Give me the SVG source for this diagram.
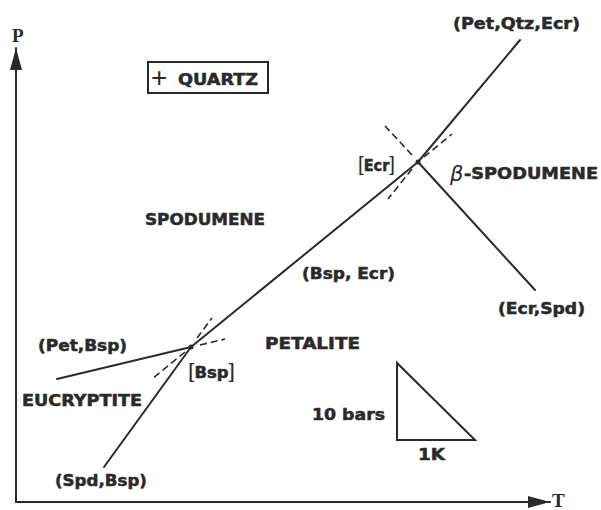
<svg xmlns="http://www.w3.org/2000/svg" width="601" height="510" viewBox="0 0 601 510">
<defs>
<marker id="arrow" markerUnits="userSpaceOnUse" markerWidth="22" markerHeight="12" refX="22" refY="6" orient="auto">
<path d="M0,0 L22,6 L0,12 z" fill="#2a2a2a"/>
</marker>
<style>
.ln{stroke:#2a2a2a;stroke-width:2;fill:none;stroke-linecap:round}
.ds{stroke:#2a2a2a;stroke-width:1.6;fill:none;stroke-dasharray:7 4}
.lb{font-family:"DejaVu Sans","Liberation Sans",sans-serif;font-weight:bold;font-size:15px;fill:#2a2a2a;stroke:#2a2a2a;stroke-width:0.5}
.ax{font-family:"Liberation Serif","DejaVu Serif",serif;font-weight:bold;font-size:19px;fill:#2a2a2a}
.th{font-weight:normal;stroke-width:0}
.br{font-family:"Liberation Sans",sans-serif;font-weight:normal;stroke-width:0;font-size:21px}
</style>
</defs>
<rect width="601" height="510" fill="#fff"/>
<g id="axes">
<line class="ln" x1="16" y1="502" x2="16" y2="48" marker-end="url(#arrow)"/>
<line class="ln" x1="16" y1="502" x2="550" y2="502" marker-end="url(#arrow)"/>
<text class="ax" x="12" y="42">P</text>
<text class="ax" x="552" y="507">T</text>
</g>
<g id="connectors">
<line class="ln" x1="104" y1="467" x2="191" y2="347"/>
<line class="ln" x1="57" y1="379" x2="191" y2="347"/>
<line class="ln" x1="191" y1="347" x2="418" y2="162"/>
<line class="ln" x1="418" y1="162" x2="520" y2="40"/>
<line class="ln" x1="418" y1="162" x2="535" y2="290"/>
<line class="ds" x1="412" y1="155" x2="385" y2="126"/>
<line class="ds" x1="424" y1="157" x2="452" y2="134"/>
<line class="ds" x1="412" y1="169" x2="388" y2="199"/>
<line class="ds" x1="197" y1="338" x2="212" y2="318"/>
<line class="ds" x1="185" y1="352" x2="152" y2="379"/>
<line class="ds" x1="200" y1="345" x2="225" y2="339"/>
<circle cx="191" cy="347" r="2.5" fill="#2a2a2a"/>
<circle cx="418" cy="162" r="2.5" fill="#2a2a2a"/>
</g>
<g id="quartz">
<rect x="148" y="62" width="120" height="31" fill="none" stroke="#2a2a2a" stroke-width="2"/>
<text class="lb" x="151" y="87"><tspan class="th" font-size="28" font-family="Liberation Sans, sans-serif">+</tspan></text>
<text class="lb" x="178" y="85" textLength="80" lengthAdjust="spacingAndGlyphs">QUARTZ</text>
</g>
<g id="pet-qtz-ecr"><text class="lb" x="453" y="29" textLength="127" lengthAdjust="spacingAndGlyphs">(Pet,Qtz,Ecr)</text></g>
<g id="ecr"><text class="lb" x="358" y="171" textLength="37" lengthAdjust="spacingAndGlyphs"><tspan class="br">[</tspan>Ecr<tspan class="br">]</tspan></text></g>
<g id="beta-spodumene">
<text class="lb" x="450" y="181"><tspan class="th" font-style="italic" font-size="21">β</tspan></text>
<text class="lb" x="464" y="179" textLength="134" lengthAdjust="spacingAndGlyphs">-SPODUMENE</text>
</g>
<g id="spodumene"><text class="lb" x="145" y="225" textLength="120" lengthAdjust="spacingAndGlyphs">SPODUMENE</text></g>
<g id="bsp-ecr"><text class="lb" x="302" y="279" textLength="93" lengthAdjust="spacingAndGlyphs">(Bsp, Ecr)</text></g>
<g id="ecr-spd"><text class="lb" x="498" y="314" textLength="87" lengthAdjust="spacingAndGlyphs">(Ecr,Spd)</text></g>
<g id="pet-bsp"><text class="lb" x="38" y="351" textLength="89" lengthAdjust="spacingAndGlyphs">(Pet,Bsp)</text></g>
<g id="petalite"><text class="lb" x="265" y="349" textLength="95" lengthAdjust="spacingAndGlyphs">PETALITE</text></g>
<g id="bsp"><text class="lb" x="188" y="378" textLength="47" lengthAdjust="spacingAndGlyphs"><tspan class="br" font-size="23">[</tspan>Bsp<tspan class="br" font-size="23">]</tspan></text></g>
<g id="eucryptite"><text class="lb" x="22" y="406" textLength="120" lengthAdjust="spacingAndGlyphs">EUCRYPTITE</text></g>
<g id="spd-bsp"><text class="lb" x="55" y="486" textLength="92" lengthAdjust="spacingAndGlyphs">(Spd,Bsp)</text></g>
<g id="scale">
<polygon points="397,363 397,440 475,440" fill="none" stroke="#2a2a2a" stroke-width="2" stroke-linejoin="miter"/>
<text class="lb" x="312" y="420" textLength="73" lengthAdjust="spacingAndGlyphs">10 bars</text>
<text class="lb" x="418" y="460" textLength="27" lengthAdjust="spacingAndGlyphs">1K</text>
</g>
</svg>
